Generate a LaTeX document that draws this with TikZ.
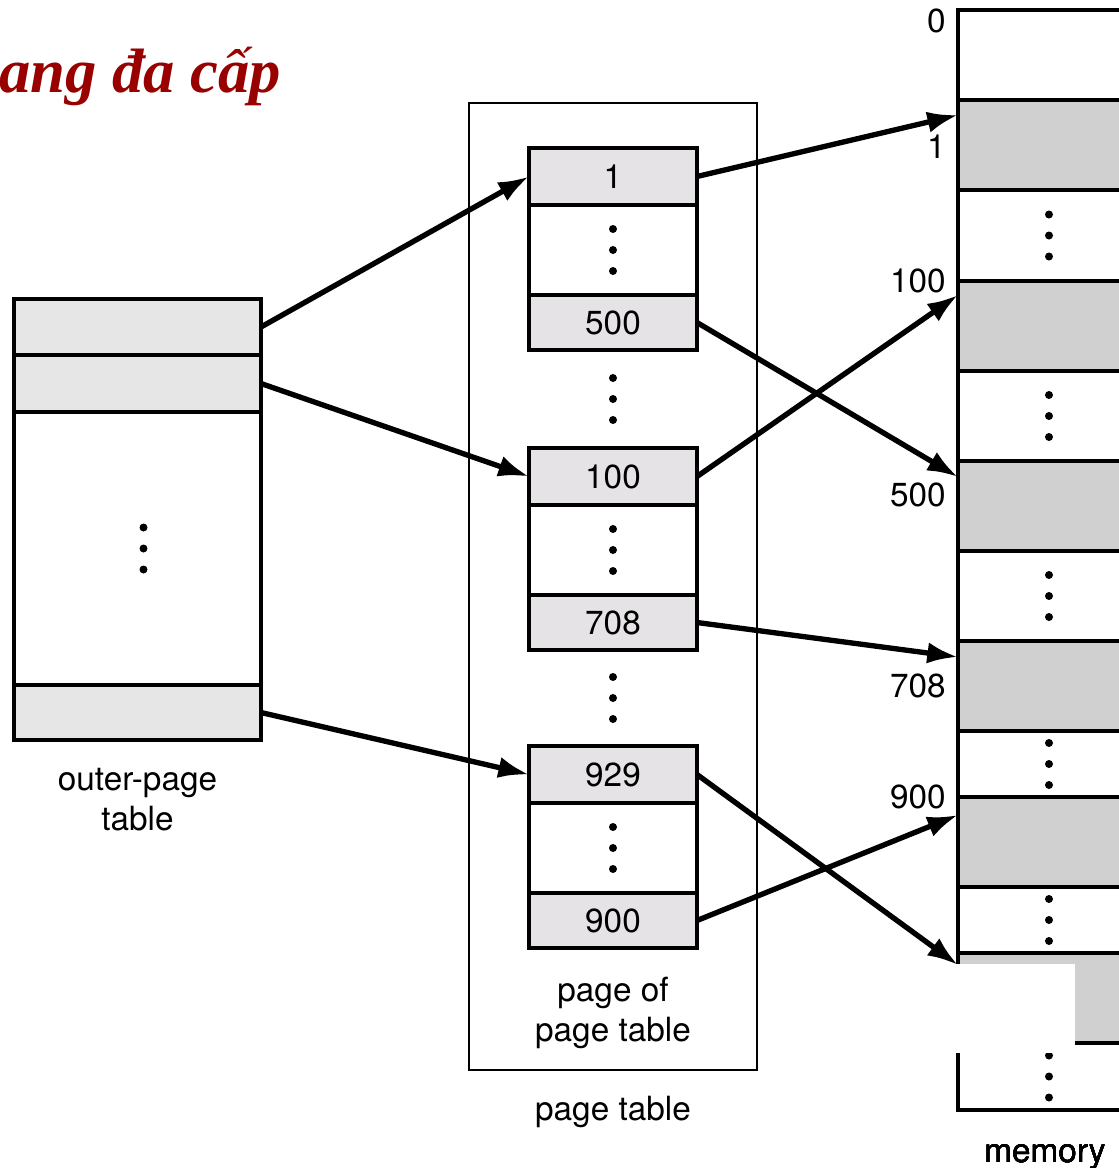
\documentclass[tikz,border=0pt]{standalone}
\usepackage{fontspec}
\setmainfont{TeX Gyre Heros}
\newfontfamily\titlefont{Liberation Serif}
\usetikzlibrary{arrows.meta, positioning, calc}

\definecolor{outergray}{HTML}{E6E6E6}
\definecolor{pagegray}{HTML}{E5E3E5}
\definecolor{memgray}{HTML}{D0D0D0}
\definecolor{titlered}{HTML}{990000}

\newdimen\px \px=0.75pt
% three big dots stacked around a point
\newcommand{\threedots}[1]{\foreach \dy in {-21,0,21} \fill ([yshift=\dy\px]#1) circle (4\px);}

\begin{document}
\begin{tikzpicture}[
    x=0.75pt, y=-0.75pt, % one unit = one pixel, y grows downwards
    >={Latex[length=23pt, width=16pt]}, % Set default arrow tip style
    font=\fontsize{25}{30}\selectfont,
    outerrow/.style={draw, line width=2.8pt, fill=outergray, minimum width=247\px, minimum height=#1, inner sep=0pt, outer sep=0pt}, % rows of the outer table
    ptrow/.style={draw, line width=2.4pt, fill=pagegray, minimum width=168\px, minimum height=#1, inner sep=0pt, outer sep=0pt}, % rows of a page of the page table
    memrow/.style={draw, line width=2.6pt, fill=memgray, minimum width=182\px, minimum height=#1, inner sep=0pt, outer sep=0pt}, % memory frames
    frame/.style={draw, line width=1.8pt, minimum width=288\px, minimum height=967\px, inner sep=0pt, outer sep=0pt}, % box round the page table
    arrow/.style={->, line width=4pt}, % pointers
    addr/.style={anchor=east, inner sep=0pt}, % frame numbers
    caption/.style={align=center, inner sep=0pt},
    titletext/.style={font=\titlefont\fontsize{47}{56}\selectfont\bfseries\itshape, text=titlered, inner sep=0pt}
]
    \useasboundingbox (0,0) rectangle (1118,1168);

    % Title
    \node[titletext, anchor=base west] (title) at (-1,92) {ang đa cấp};

    % Outer-page table
    \node[outerrow=56\px] (o1) at (137.5,327) {};
    \node[outerrow=57\px, below=0pt of o1] (o2) {};
    \node[outerrow=273\px, fill=white, below=0pt of o2] (odots) {};
    \node[outerrow=55\px, below=0pt of odots] (o3) {};
    \coordinate (odotc) at ([xshift=6\px]odots.center);
    \threedots{odotc}
    \node[caption, below=28\px of o3] (outerlabel) {outer-page\\table};

    % Page table with its three pages
    \node[frame] (ptframe) at (613,586.5) {};
    \node[ptrow=57\px] (p1) at (613,176.5) {1};
    \node[ptrow=90\px, fill=white, below=0pt of p1] (p1dots) {};
    \node[ptrow=55\px, below=0pt of p1dots] (p500) {500};
    \node[ptrow=57\px, below=98\px of p500] (p100) {100};
    \node[ptrow=90\px, fill=white, below=0pt of p100] (p100dots) {};
    \node[ptrow=55\px, below=0pt of p100dots] (p708) {708};
    \node[ptrow=57\px, below=96\px of p708] (p929) {929};
    \node[ptrow=90\px, fill=white, below=0pt of p929] (p929dots) {};
    \node[ptrow=55\px, below=0pt of p929dots] (p900) {900};
    \coordinate (gapA) at ($(p500.south)!0.5!(p100.north)$);
    \coordinate (gapB) at ($(p708.south)!0.5!(p929.north)$);
    \threedots{p1dots.center}
    \threedots{p100dots.center}
    \threedots{p929dots.center}
    \threedots{gapA}
    \threedots{gapB}
    \node[caption, below=29\px of p900] (pagelabel) {page of\\page table};
    \node[caption, below=26\px of ptframe] (ptlabel) {page table};

    % Memory
    \node[memrow=90\px, fill=white] (m0) at (1049,55) {};
    \node[memrow=90\px, below=0pt of m0] (m1) {};
    \node[memrow=91\px, fill=white, below=0pt of m1] (m1dots) {};
    \node[memrow=90\px, below=0pt of m1dots] (m100) {};
    \node[memrow=90\px, fill=white, below=0pt of m100] (m100dots) {};
    \node[memrow=90\px, below=0pt of m100dots] (m500) {};
    \node[memrow=90\px, fill=white, below=0pt of m500] (m500dots) {};
    \node[memrow=90\px, below=0pt of m500dots] (m708) {};
    \node[memrow=66\px, fill=white, below=0pt of m708] (m708dots) {};
    \node[memrow=90\px, below=0pt of m708dots] (m900) {};
    \node[memrow=66\px, fill=white, below=0pt of m900] (m900dots) {};
    \node[memrow=90\px, below=0pt of m900dots] (m929) {};
    \node[memrow=67\px, fill=white, below=0pt of m929] (mend) {};
    \foreach \m in {m1dots, m100dots, m500dots, m708dots, m900dots, mend}
        \threedots{\m.center}
    \node[caption, below=34\px of mend, xshift=-4\px] (memlabel) {memory};

    % Frame numbers
    \node[addr] (a0) at ([xshift=-12\px, yshift=-11\px]m0.north west) {0};
    \node[addr] (a1) at ([xshift=-12\px, yshift=-2\px]m1.west) {1};
    \node[addr] (a100) at ([xshift=-12\px]m100.north west) {100};
    \node[addr] (a500) at ([xshift=-12\px, yshift=11\px]m500.west) {500};
    \node[addr] (a708) at ([xshift=-12\px]m708.west) {708};
    \node[addr] (a900) at ([xshift=-12\px]m900.north west) {900};

    % Outer table -> pages of the page table
    \draw[arrow] (o1.east) -- (p1.west);
    \draw[arrow] (o2.east) -- (p100.west);
    \draw[arrow] (o3.east) -- (p929.west);

    % Page table -> memory frames
    \draw[arrow] (p1.east) -- ([yshift=-15\px]m1.north west);
    \draw[arrow] (p500.east) -- ([yshift=-16\px]m500.north west);
    \draw[arrow] (p100.east) -- ([yshift=-14\px]m100.north west);
    \draw[arrow] (p708.east) -- ([yshift=-16\px]m708.north west);
    \draw[arrow] (p929.east) -- ([yshift=-12\px]m929.north west);
    \draw[arrow] (p900.east) -- ([yshift=-18\px]m900.north west);

    % blank patch over the last frame
    \fill[white] (954,964) rectangle (1075,1053);

\end{tikzpicture}
\end{document}
